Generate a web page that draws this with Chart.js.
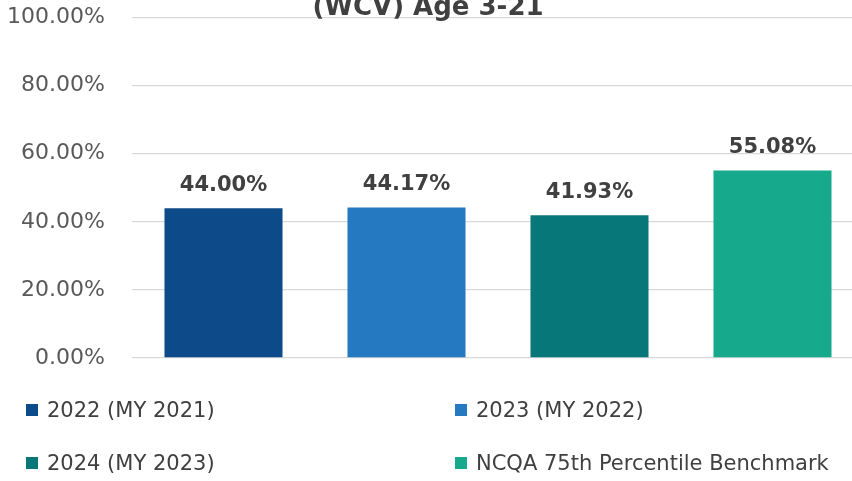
<!DOCTYPE html>
<html>
<head>
<meta charset="utf-8">
<script src="https://cdn.jsdelivr.net/npm/chart.js@4"></script>
<style>
  html, body { margin: 0; padding: 0; background: #fff; overflow: hidden; }
  #wrap { position: relative; width: 852px; height: 481px; overflow: hidden; }
  #chart { position: absolute; left: 0; top: 0; }
  .legend-item {
    position: absolute;
    display: flex;
    align-items: center;
    font-family: "DejaVu Sans", sans-serif;
    font-size: 21px;
    color: #404040;
    white-space: nowrap;
    height: 30px;
  }
  .legend-item span.box { width: 12px; height: 12px; margin-right: 9px; display: inline-block; }
</style>
</head>
<body>
<div id="wrap">
  <canvas id="chart" width="864" height="481"></canvas>
  <div id="legend"></div>
</div>
<script>
const titleText = "(WCV) Age 3-21";
const categories = ["2022 (MY 2021)", "2023 (MY 2022)", "2024 (MY 2023)", "NCQA 75th Percentile Benchmark"];
const values = [44.0, 44.17, 41.93, 55.08];
const colors = ["#0C4A89", "#2479C1", "#07777A", "#17A98C"];
const yTicks = [0, 20, 40, 60, 80, 100];

(() => {
  // value labels above bars + the title, whose top is cut off like in the source image
  const textPlugin = {
    id: "textPlugin",
    afterDatasetsDraw: (chart) => {
      const { ctx } = chart;
      const meta = chart.getDatasetMeta(0);

      ctx.save();
      ctx.font = "bold 21px 'DejaVu Sans'";
      ctx.fillStyle = "#404040";
      ctx.textAlign = "center";
      ctx.textBaseline = "middle";
      meta.data.forEach((bar, i) => {
        ctx.fillText(values[i].toFixed(2) + "%", bar.x, bar.y - 23);
      });

      ctx.font = "bold 26px 'DejaVu Sans'";
      ctx.textBaseline = "alphabetic";
      ctx.fillText(titleText, 428, 15);
      ctx.restore();
    },
  };

  const ctx = document.getElementById("chart");
  const data = {
    labels: categories,
    datasets: [
      {
        data: values,
        backgroundColor: colors,
        borderWidth: 0,
        barPercentage: 0.645,
        categoryPercentage: 1,
      },
    ],
  };
  const config = {
    type: "bar",
    data: data,
    plugins: [textPlugin],
    options: {
      responsive: false,
      animation: false,
      layout: {
        padding: { left: 0, right: 0, top: 17.5, bottom: 123 },
      },
      plugins: {
        legend: { display: false },
        tooltip: { enabled: false },
        title: { display: false },
      },
      scales: {
        x: {
          display: false,
        },
        y: {
          min: 0,
          max: 100,
          afterTickToLabelConversion: (scale) => {
            scale.ticks = yTicks.map((v) => ({ value: v, label: v.toFixed(2) + "%" }));
          },
          afterFit: (scale) => {
            scale.width = 132;
            scale.paddingTop = 0;
            scale.paddingBottom = 0;
          },
          border: { display: false },
          grid: {
            color: "#D9D9D9",
            lineWidth: 1.3,
            drawTicks: false,
          },
          ticks: {
            stepSize: 20,
            padding: 27,
            color: "#595959",
            font: { family: "DejaVu Sans", size: 22 },
          },
        },
      },
    },
  };

  new Chart(ctx, config);

  // legend in two columns under the plot
  const legend = document.getElementById("legend");
  const cols = [26, 455];
  const rows = [395, 448];
  categories.forEach((name, i) => {
    const item = document.createElement("div");
    item.className = "legend-item";
    item.style.left = cols[i % 2] + "px";
    item.style.top = rows[Math.floor(i / 2)] + "px";
    const box = document.createElement("span");
    box.className = "box";
    box.style.background = colors[i];
    item.appendChild(box);
    item.appendChild(document.createTextNode(name));
    legend.appendChild(item);
  });
})();
</script>
</body>
</html>
